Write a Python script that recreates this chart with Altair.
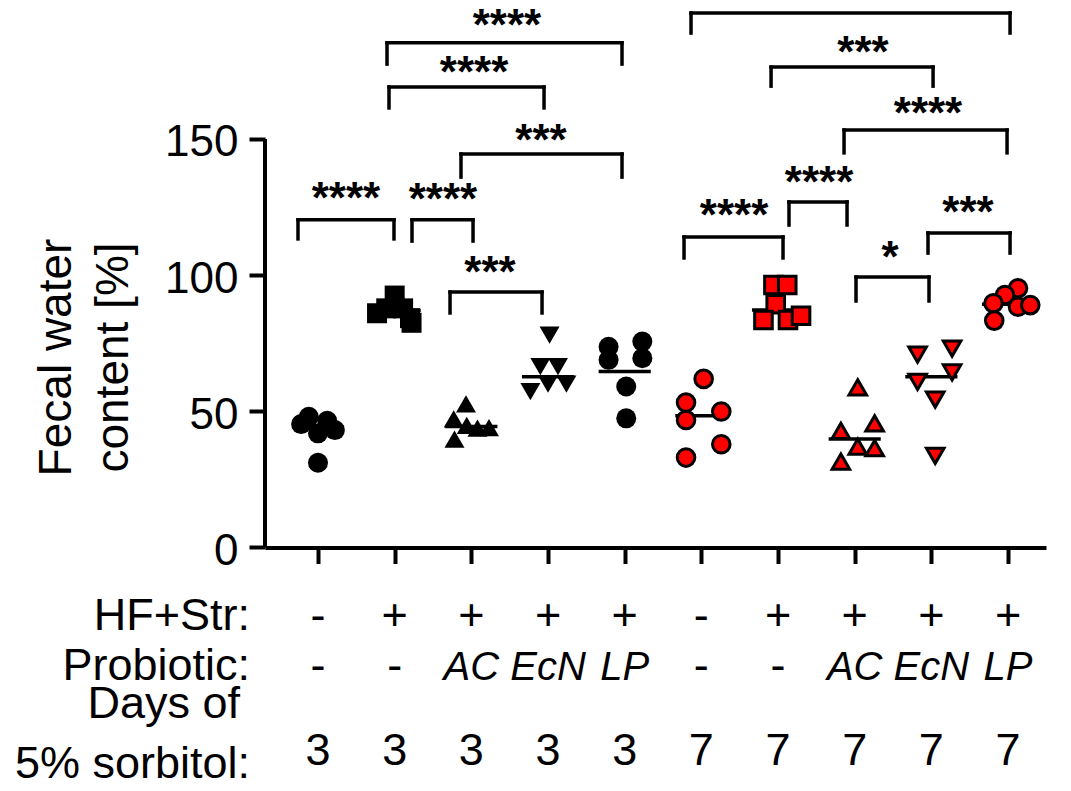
import altair as alt
import pandas as pd

FONT = "Liberation Sans"

# ---------------- data ----------------
groups = [1, 2, 3, 4, 5, 6, 7, 8, 9, 10]
group_shapes = ["circle", "square", "triangle-up", "triangle-down", "circle",
                "circle", "square", "triangle-up", "triangle-down", "circle"]
group_fill = ["black", "black", "black", "black", "black",
              "red", "red", "red", "red", "red"]

g1_vals = [45.3, 48.0, 46.5, 43.1, 41.9, 31.1]
g2_vals = [92.5, 87.8, 87.8, 86.0, 84.2, 82.5]
g3_vals = [52.7, 47.2, 44.8, 43.8, 44.0, 39.8]
g4_vals = [78.0, 66.4, 66.4, 57.2, 60.0, 60.0]
g5_vals = [73.7, 68.9, 75.6, 69.5, 59.1, 47.4]
g6_vals = [61.9, 53.2, 46.8, 49.9, 37.9, 33.0]
g7_vals = [96.4, 96.4, 89.3, 83.5, 83.5, 85.1]
g8_vals = [58.8, 42.8, 45.6, 37.0, 36.5, 31.5]
g9_vals = [70.8, 73.0, 64.3, 60.8, 54.3, 33.6]
g10_vals = [95.2, 92.7, 89.7, 88.4, 89.0, 83.3]

# horizontal scatter of the dots within each column (group units)
g1_jit = [-0.22, -0.12, 0.12, 0.22, 0.0, 0.0]
g2_jit = [0.0, -0.11, 0.11, -0.23, 0.20, 0.22]
g3_jit = [-0.07, -0.23, -0.06, 0.08, 0.23, -0.22]
g4_jit = [0.02, -0.10, 0.13, -0.23, 0.0, 0.24]
g5_jit = [-0.21, -0.21, 0.23, 0.23, 0.02, 0.02]
g6_jit = [0.03, -0.20, -0.20, 0.26, 0.26, -0.20]
g7_jit = [-0.06, 0.12, -0.03, -0.19, 0.13, 0.30]
g8_jit = [0.04, -0.18, 0.26, 0.04, 0.26, -0.18]
g9_jit = [-0.18, 0.27, 0.27, -0.18, 0.05, 0.05]
g10_jit = [0.13, -0.04, -0.19, 0.13, 0.29, -0.18]

center_lines = [44.2, 87.0, 44.4, 62.7, 64.6, 48.4, 87.2, 39.8, 62.7, 89.3]

# significance brackets
br_x1 = [1.900, 1.926, 2.865, 0.739, 2.226, 2.722, 5.865, 6.909, 7.861, 7.143, 5.774, 8.956, 8.017]
br_x2 = [4.965, 3.948, 4.965, 1.991, 3.022, 3.922, 10.026, 9.022, 9.987, 7.900, 7.065, 10.026, 8.969]
br_top = [185.3, 169.1, 144.5, 120.3, 120.3, 93.8, 196.3, 176.4, 153.3, 126.9, 114.0, 115.5, 99.3]
br_bot = [177.5, 161.4, 136.0, 113.3, 112.5, 86.1, 188.9, 169.4, 144.9, 118.4, 106.3, 108.1, 90.5]
star_text = ["****", "****", "***", "****", "****", "***", "***", "****", "****", "****", "***", "*"]
star_x = [3.465, 3.035, 3.909, 1.365, 2.630, 3.243, 8.108, 8.956, 7.535, 6.426, 9.478, 8.461]
star_y = [195.5, 178.3, 153.3, 132.0, 131.6, 104.8, 185.6, 163.2, 137.9, 125.8, 126.9, 110.3]

# table under the axis
hf_str = ["-", "+", "+", "+", "+", "-", "+", "+", "+", "+"]
probiotic = ["-", "-", "AC", "EcN", "LP", "-", "-", "AC", "EcN", "LP"]
sorbitol_days = ["3", "3", "3", "3", "3", "7", "7", "7", "7", "7"]
row_labels = ["HF+Str:", "Probiotic:", "Days of", "5% sorbitol:"]

y_ticks = [0, 50, 100, 150]

# ---------------- layout constants ----------------
X_MIN, X_MAX = 0.3087, 10.495
Y_MIN, Y_MAX = -86.5, 198.1
W, H = 781, 775
HALF_LINE = 0.34
row_label_x = [0.113, 0.113, -0.017, 0.113]
row_label_y = [-30.3, -48.7, -62.7, -84.8]
row_val_y = [-30.3, -48.7, -79.9]

# ---------------- build tables ----------------
all_vals = [g1_vals, g2_vals, g3_vals, g4_vals, g5_vals, g6_vals, g7_vals, g8_vals, g9_vals, g10_vals]
all_jit = [g1_jit, g2_jit, g3_jit, g4_jit, g5_jit, g6_jit, g7_jit, g8_jit, g9_jit, g10_jit]
rows = []
for g, vals, jit, shp, fl in zip(groups, all_vals, all_jit, group_shapes, group_fill):
    for v, j in zip(vals, jit):
        rows.append({"x": g + j, "value": v, "shape": shp, "fill": fl})
pts = pd.DataFrame(rows)

lines = pd.DataFrame({"x1": [g - HALF_LINE for g in groups],
                      "x2": [g + HALF_LINE for g in groups],
                      "value": center_lines})
br = pd.DataFrame({"x1": br_x1, "x2": br_x2, "top": br_top, "bot": br_bot})
stars = pd.DataFrame({"x": star_x, "y": star_y, "t": star_text})

tab = []
for g, a, b, c in zip(groups, hf_str, probiotic, sorbitol_days):
    tab.append({"x": g, "y": row_val_y[0], "t": a, "it": False})
    tab.append({"x": g, "y": row_val_y[1], "t": b, "it": b not in ("-", "+")})
    tab.append({"x": g, "y": row_val_y[2], "t": c, "it": False})
tab = pd.DataFrame(tab)
rl = pd.DataFrame({"x": row_label_x, "y": row_label_y, "t": row_labels})

xs = alt.Scale(domain=[X_MIN, X_MAX], nice=False, zero=False)
ys = alt.Scale(domain=[Y_MIN, Y_MAX], nice=False, zero=False)

x_axis = alt.Axis(values=groups, labels=False, ticks=True, tickSize=16, tickWidth=4,
                  tickColor="black", domain=True, domainWidth=4, domainColor="black",
                  grid=False, offset=-235.5, title=None)
y_axis = alt.Axis(values=y_ticks, domain=False, ticks=True, tickSize=16, tickWidth=4,
                  tickColor="black", grid=False, labelFont=FONT, labelFontSize=44,
                  labelColor="black", labelPadding=11, labelOffset=4,
                  title=["Fecal water", "content [%]"], titleFont=FONT, titleFontSize=46,
                  titleFontWeight="normal", titleColor="black", titleAngle=270,
                  titleX=-195, titleY=349, titleAlign="center", titleBaseline="alphabetic",
                  titleLineHeight=57)


def X(f):
    return alt.X(f, type="quantitative", scale=xs, axis=x_axis)


def Y(f):
    return alt.Y(f, type="quantitative", scale=ys, axis=y_axis)


line_layer = alt.Chart(lines).mark_rule(color="black", strokeWidth=3.5).encode(
    x=X("x1"), x2="x2", y=Y("value"),
)

black_pts = alt.Chart(pts).transform_filter(alt.datum.fill == "black").mark_point(
    filled=True, fill="black", stroke="black", strokeWidth=0, size=400, opacity=1
).encode(
    x=X("x"), y=Y("value"),
    shape=alt.Shape("shape:N", scale=None),
)

red_pts = alt.Chart(pts).transform_filter(alt.datum.fill == "red").mark_point(
    filled=True, fill="#ff0000", stroke="black", strokeWidth=3, size=310, opacity=1
).encode(
    x=X("x"), y=Y("value"),
    shape=alt.Shape("shape:N", scale=None),
)

# y axis line from 0 to 150
yaxis_line = alt.Chart(pd.DataFrame({"a": [y_ticks[0]], "b": [y_ticks[-1]]})).mark_rule(
    color="black", strokeWidth=4
).encode(
    x=alt.value(0), y=Y("a"), y2="b",
)

br_h = alt.Chart(br).mark_rule(color="black", strokeWidth=3.5, strokeCap="square").encode(
    x=X("x1"), x2="x2", y=Y("top"),
)
br_l = alt.Chart(br).mark_rule(color="black", strokeWidth=3.5, strokeCap="square").encode(
    x=X("x1"), y=Y("bot"), y2="top",
)
br_r = alt.Chart(br).mark_rule(color="black", strokeWidth=3.5, strokeCap="square").encode(
    x=X("x2"), y=Y("bot"), y2="top",
)

star_layer = alt.Chart(stars).mark_text(
    font=FONT, fontSize=44, fontWeight="bold", color="black", align="center",
    baseline="alphabetic", dy=25
).encode(x=X("x"), y=Y("y"), text="t:N")

tab_plain = alt.Chart(tab).transform_filter("!datum.it").mark_text(
    font=FONT, fontSize=45, color="black", align="center", baseline="alphabetic"
).encode(x=X("x"), y=Y("y"), text="t:N")

tab_ital = alt.Chart(tab).transform_filter("datum.it").mark_text(
    font=FONT, fontSize=40, fontStyle="italic", color="black", align="center",
    baseline="alphabetic"
).encode(x=X("x"), y=Y("y"), text="t:N")

row_layer = alt.Chart(rl).mark_text(
    font=FONT, fontSize=45, color="black", align="right", baseline="alphabetic"
).encode(x=X("x"), y=Y("y"), text="t:N")

chart = alt.layer(
    line_layer, black_pts, red_pts, yaxis_line, br_h, br_l, br_r,
    star_layer, tab_plain, tab_ital, row_layer
).properties(
    width=W, height=H,
    autosize=alt.AutoSizeParams(type="none"),
    padding={"left": 257, "top": 0, "right": 15, "bottom": 0},
    background="white",
).configure_view(stroke=None)

chart.save("out.html", embed_options={"renderer": "svg", "actions": False})
